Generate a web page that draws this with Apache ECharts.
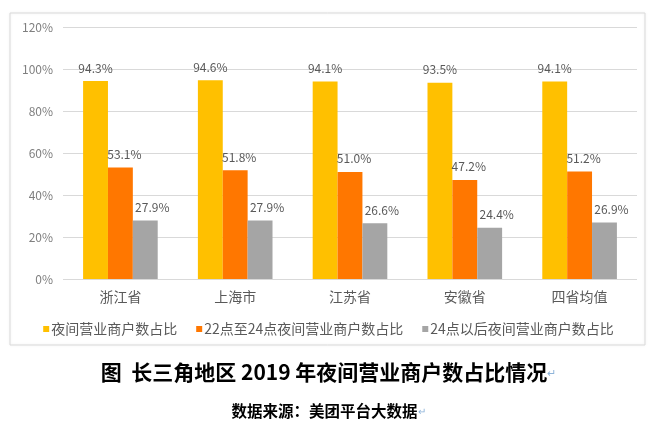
<!DOCTYPE html>
<html>
<head>
<meta charset="utf-8">
<script src="https://cdn.jsdelivr.net/npm/echarts@6/dist/echarts.min.js"></script>
<style>
html, body { margin: 0; padding: 0; background: #fff; }
#main { width: 657px; height: 425px; }
</style>
</head>
<body>
<div id="main"></div>
<script>
var categories = ['浙江省', '上海市', '江苏省', '安徽省', '四省均值'];
var seriesNames = ['夜间营业商户数占比', '22点至24点夜间营业商户数占比', '24点以后夜间营业商户数占比'];
var nightShare = [94.3, 94.6, 94.1, 93.5, 94.1];
var share22to24 = [53.1, 51.8, 51.0, 47.2, 51.2];
var shareAfter24 = [27.9, 27.9, 26.6, 24.4, 26.9];
var colors = ['#FFC000', '#FF7700', '#A5A5A5'];

var font = '"Noto Sans CJK SC", "Noto Sans", sans-serif';
var myChart = echarts.init(document.getElementById('main'));

function makeSeries(name, data, color, dx) {
    return {
        name: name,
        type: 'bar',
        data: data,
        barGap: 0,
        barCategoryGap: '35%',
        itemStyle: { color: color },
        label: {
            show: true,
            position: 'top',
            distance: 7,
            offset: [dx, 0],
            color: '#595959',
            fontSize: 12,
            fontFamily: font,
            formatter: function (p) { return p.value.toFixed(1) + '%'; }
        }
    };
}

var option = {
    backgroundColor: '#fff',
    color: colors,
    animation: false,
    graphic: [{
        type: 'rect',
        shape: { x: 10, y: 13, width: 635, height: 332 },
        style: { fill: 'none', stroke: '#d9d9d9', lineWidth: 1, shadowColor: 'rgba(0,0,0,0.08)', shadowBlur: 3 },
        z: -1
    }],
    title: [{
        text: '图  长三角地区 2019 年夜间营业商户数占比情况{m|↵}',
        left: 'center',
        top: 357,
        textStyle: {
            fontFamily: font,
            fontSize: 21,
            fontWeight: 'bold',
            color: '#000',
            rich: { m: { color: '#8fb4d9', fontSize: 11, fontWeight: 'normal' } }
        }
    }, {
        text: '数据来源：美团平台大数据{m|↵}',
        left: 'center',
        top: 398,
        textStyle: {
            fontFamily: font,
            fontSize: 15.5,
            fontWeight: 'bold',
            color: '#000',
            rich: { m: { color: '#8fb4d9', fontSize: 10, fontWeight: 'normal' } }
        }
    }],
    legend: {
        data: seriesNames,
        left: 'center',
        top: 317,
        icon: 'rect',
        itemWidth: 6,
        itemHeight: 6,
        itemGap: 19,
        textStyle: { color: '#595959', fontSize: 14, fontFamily: font, padding: [0, 0, 0, -3] }
    },
    grid: { left: 63, right: 20, top: 27, bottom: 146 },
    xAxis: {
        type: 'category',
        data: categories,
        axisLine: { show: false },
        axisTick: { show: false },
        axisLabel: { color: '#595959', fontSize: 14, fontFamily: font, margin: 11 }
    },
    yAxis: {
        type: 'value',
        min: 0,
        max: 120,
        interval: 20,
        axisLine: { show: false },
        axisTick: { show: false },
        splitLine: { lineStyle: { color: '#d9d9d9' } },
        axisLabel: { color: '#7f7f7f', fontSize: 12, fontFamily: font, margin: 10, formatter: '{value}%' }
    },
    series: [
        makeSeries(seriesNames[0], nightShare, colors[0], 0),
        makeSeries(seriesNames[1], share22to24, colors[1], 4),
        makeSeries(seriesNames[2], shareAfter24, colors[2], 7)
    ]
};
myChart.setOption(option);
</script>
</body>
</html>
